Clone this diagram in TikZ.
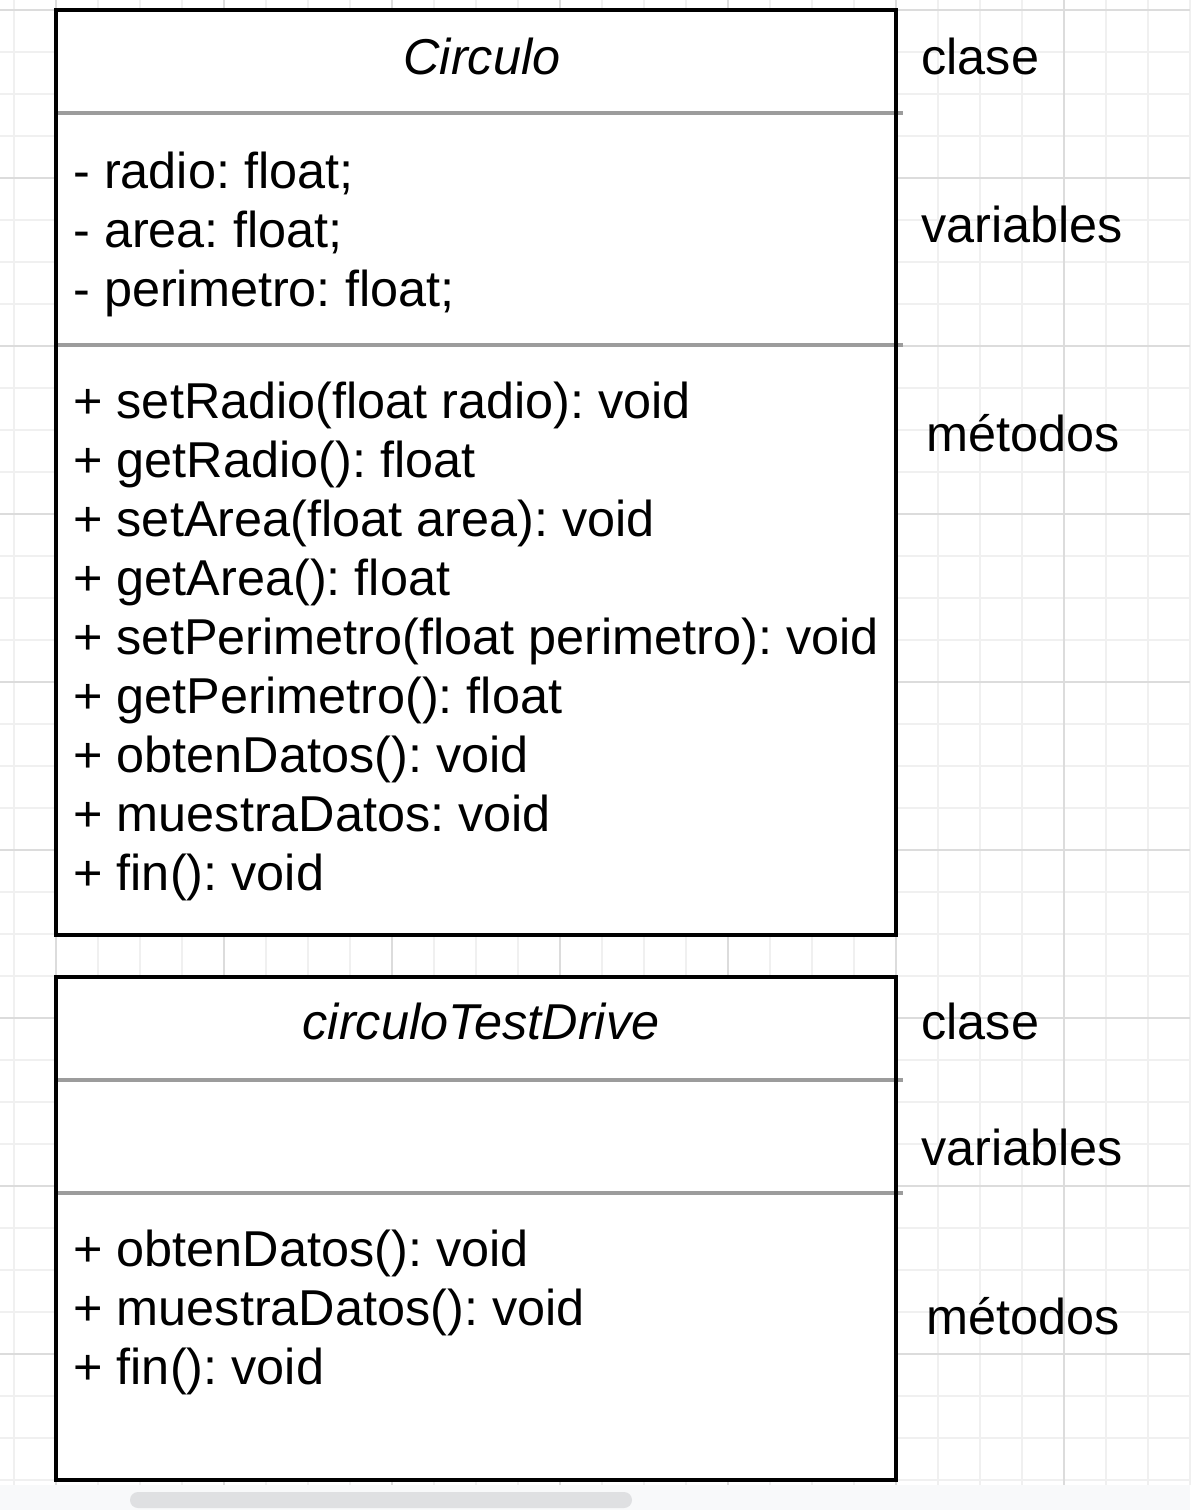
\documentclass[tikz,border=0pt]{standalone}
\usepackage{fontspec}
\setmainfont{Liberation Sans}
\frenchspacing
\definecolor{gridminor}{HTML}{F0F0F0}
\definecolor{gridmajor}{HTML}{DCDCDC}
\definecolor{divgray}{HTML}{9C9C9C}
\definecolor{barbg}{HTML}{F8F9FA}
\definecolor{barthumb}{HTML}{DFE0E2}
\tikzset{minorgrid/.style={gridminor, line width=1pt}}
\tikzset{majorgrid/.style={gridmajor, line width=1pt}}
\tikzset{classbox/.style={draw=black, line width=2pt}}
\tikzset{divider/.style={divgray, line width=1.6pt}}
\tikzset{member/.style={anchor=base west, inner sep=0pt,
  font=\fontsize{25.2}{29.5}\selectfont}}
\tikzset{classname/.style={anchor=base, inner sep=0pt,
  font=\fontsize{25.2}{29.5}\selectfont\itshape}}

\begin{document}
\begin{tikzpicture}[x=0.5pt,y=-0.5pt]
\useasboundingbox (0,0) rectangle (1190,1510);
\fill[white] (0,0) rectangle (1190,1510);

% grid
\foreach \x in {14,56,...,1190}{
  \draw[minorgrid] (\x,0) -- (\x,1485);
}
\foreach \y in {10,52,...,1480}{
  \draw[minorgrid] (0,\y) -- (1190,\y);
}
\foreach \x in {56,224,...,1190}{
  \draw[majorgrid] (\x,0) -- (\x,1485);
}
\foreach \y in {10,178,...,1480}{
  \draw[majorgrid] (0,\y) -- (1190,\y);
}

% scroll bar
\fill[barbg] (0,1485) rectangle (1190,1510);
\fill[barthumb, rounded corners=4pt] (130,1492) rectangle (632,1508);

% class Circulo
\fill[white] (56,10) rectangle (896,935);
\draw[divider] (56,113) -- (903,113);
\draw[divider] (56,345) -- (903,345);
\draw[classbox] (56,10) rectangle (896,935);

\node[classname] (circulo) at (482,74) {Circulo};
\foreach \txt [count=\i] in {- radio: float;, - area: float;, - perimetro: float;}{
  \node[member] (var\i) at (73,{188+59*(\i-1)}) {\txt};
}
\foreach \txt [count=\i] in {+ setRadio(float radio): void, + getRadio(): float,
  + setArea(float area): void, + getArea(): float,
  + setPerimetro(float perimetro): void, + getPerimetro(): float,
  + obtenDatos(): void, + muestraDatos: void, + fin(): void}{
  \node[member] (met\i) at (73,{418+59*(\i-1)}) {\txt};
}

\node[member] (clase1) at (921,74) {clase};
\node[member] (vars1) at (921,242) {variables};
\node[member] (mets1) at (926,451) {métodos};

% class circuloTestDrive
\fill[white] (56,977) rectangle (896,1480);
\draw[divider] (56,1080) -- (903,1080);
\draw[divider] (56,1193) -- (903,1193);
\draw[classbox] (56,977) rectangle (896,1480);

\node[classname] (testdrive) at (481,1039) {circuloTestDrive};
\foreach \txt [count=\i] in {+ obtenDatos(): void, + muestraDatos(): void, + fin(): void}{
  \node[member] (tmet\i) at (73,{1266+59*(\i-1)}) {\txt};
}

\node[member] (clase2) at (921,1039) {clase};
\node[member] (vars2) at (921,1165) {variables};
\node[member] (mets2) at (926,1334) {métodos};

\end{tikzpicture}
\end{document}
